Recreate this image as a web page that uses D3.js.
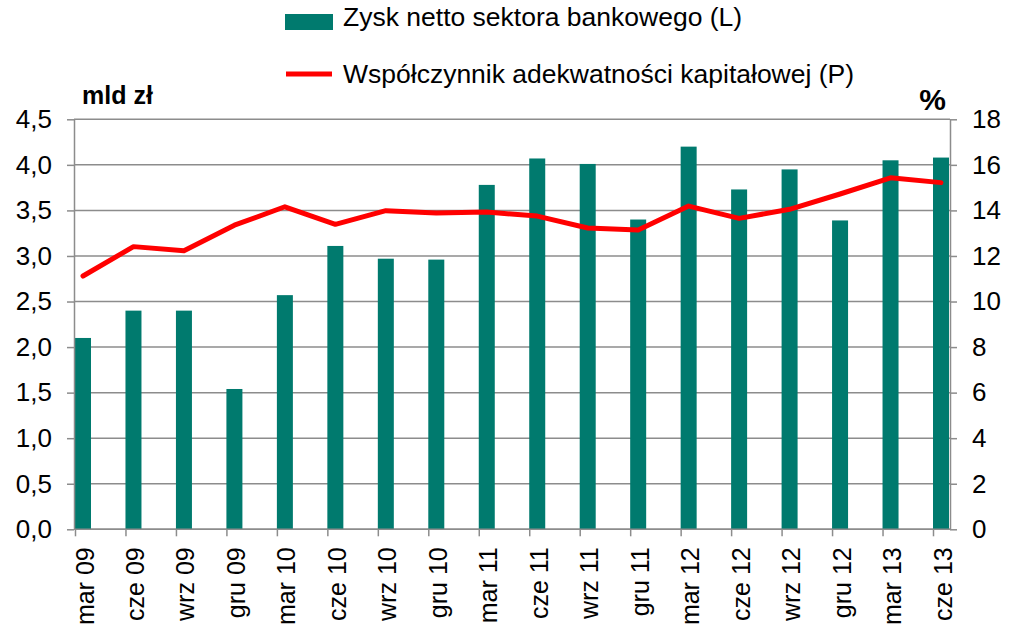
<!DOCTYPE html>
<html>
<head>
<meta charset="utf-8">
<script src="https://cdn.jsdelivr.net/npm/d3@7"></script>
<style>
  html, body { margin: 0; padding: 0; background: #fff; }
  svg { display: block; font-family: "Liberation Sans", Arial, sans-serif; }
</style>
</head>
<body>
<svg id="chart" width="1016" height="628"></svg>
<script>
const categories = ["mar 09","cze 09","wrz 09","gru 09","mar 10","cze 10","wrz 10","gru 10","mar 11","cze 11","wrz 11","gru 11","mar 12","cze 12","wrz 12","gru 12","mar 13","cze 13"];
const profit = [2.10, 2.40, 2.40, 1.54, 2.57, 3.11, 2.97, 2.96, 3.78, 4.07, 4.01, 3.40, 4.20, 3.73, 3.95, 3.39, 4.05, 4.08];
const car = [11.12, 12.41, 12.23, 13.35, 14.16, 13.39, 13.99, 13.89, 13.93, 13.75, 13.23, 13.14, 14.19, 13.65, 14.05, 14.72, 15.43, 15.22];
const leftTicks = [0, 0.5, 1, 1.5, 2, 2.5, 3, 3.5, 4, 4.5];
const rightTicks = [0, 2, 4, 6, 8, 10, 12, 14, 16, 18];
const seriesNames = ["Zysk netto sektora bankowego (L)", "Współczynnik adekwatności kapitałowej (P)"];
const leftUnit = "mld zł";
const rightUnit = "%";

const barColor = "#007A6E";
const lineColor = "#FF0000";
const gridColor = "#8c8c8c";

const svg = d3.select("#chart");
const L = 74, R = 950, T = 119.3, B = 529.3;
const barW = 16;

const x = d3.scalePoint().domain(categories).range([75, 933]);
const yL = d3.scaleLinear().domain([0, 4.5]).range([B, T]);
const yR = d3.scaleLinear().domain([0, 18]).range([B, T]);

// gridlines
svg.append("g").selectAll("line").data(leftTicks).join("line")
  .attr("x1", L).attr("x2", R)
  .attr("y1", d => yL(d)).attr("y2", d => yL(d))
  .attr("stroke", gridColor).attr("stroke-width", 1.5);

// bars
svg.append("g").selectAll("rect").data(profit).join("rect")
  .attr("x", (d, i) => x(categories[i]))
  .attr("width", barW)
  .attr("y", d => yL(d))
  .attr("height", d => yL(0) - yL(d))
  .attr("fill", barColor);

// line
const line = d3.line()
  .x((d, i) => x(categories[i]) + barW / 2)
  .y(d => yR(d));
svg.append("path").datum(car)
  .attr("d", line)
  .attr("fill", "none")
  .attr("stroke", lineColor)
  .attr("stroke-width", 5)
  .attr("stroke-linejoin", "round")
  .attr("stroke-linecap", "round");

const fmt = d => d.toFixed(1).replace(".", ",");

// left axis
const gL = svg.append("g").attr("transform", `translate(${L},0)`)
  .call(d3.axisLeft(yL).tickValues(leftTicks).tickFormat(fmt).tickSize(7).tickSizeOuter(0).tickPadding(15));
// right axis
const gR = svg.append("g").attr("transform", `translate(${R},0)`)
  .call(d3.axisRight(yR).tickValues(rightTicks).tickFormat(d3.format("d")).tickSize(7).tickSizeOuter(0).tickPadding(15));
// bottom axis
const gB = svg.append("g").attr("transform", `translate(0,${B})`)
  .call(d3.axisBottom(x).tickSize(7).tickSizeOuter(0));
gB.select(".domain").attr("d", `M${L},0H${R}`);

[gL, gR, gB].forEach(g => {
  g.selectAll(".domain").attr("stroke", gridColor).attr("stroke-width", 1.5);
  g.selectAll(".tick line").attr("stroke", gridColor).attr("stroke-width", 1.5);
  g.selectAll("text").attr("font-size", 26).attr("fill", "#000")
    .attr("font-family", "'Liberation Sans', Arial, sans-serif");
});

gB.selectAll(".tick text")
  .attr("font-size", 25)
  .attr("text-anchor", "end")
  .attr("dy", null)
  .attr("y", 0)
  .attr("transform", `translate(18,18) rotate(-90)`);

// unit labels
svg.append("text").attr("x", 82).attr("y", 104).text(leftUnit)
  .attr("font-size", 25).attr("font-weight", "bold");
svg.append("text").attr("x", 946).attr("y", 110).text(rightUnit)
  .attr("text-anchor", "end").attr("font-size", 30).attr("font-weight", "bold");

// legend
const lg = svg.append("g");
lg.append("rect").attr("x", 285).attr("y", 14).attr("width", 48).attr("height", 16).attr("fill", barColor);
lg.append("text").attr("x", 343).attr("y", 26).text(seriesNames[0]).attr("font-size", 26.5);
lg.append("line").attr("x1", 286).attr("x2", 332).attr("y1", 74).attr("y2", 74)
  .attr("stroke", lineColor).attr("stroke-width", 5);
lg.append("text").attr("x", 343).attr("y", 83).text(seriesNames[1]).attr("font-size", 26.5);
</script>
</body>
</html>
